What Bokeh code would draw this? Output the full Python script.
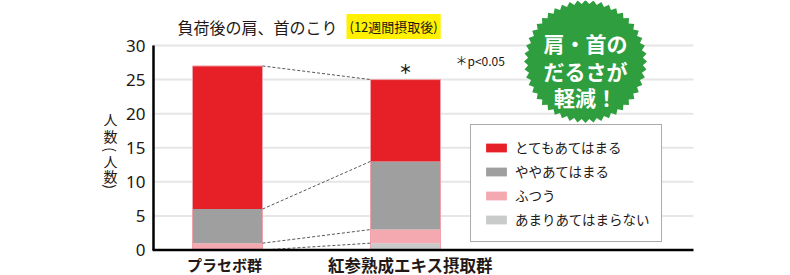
import numpy as np
from bokeh.plotting import figure
from bokeh.models import Range1d, Legend, LegendItem, ColumnDataSource
from bokeh.core.properties import value
from bokeh.embed import file_html
from bokeh.resources import INLINE

# ---------------- data ----------------
groups = ["プラセボ群", "紅参熟成エキス摂取群"]
levels = ["あまりあてはまらない", "ふつう", "ややあてはまる", "とてもあてはまる"]  # bottom -> top
placebo = [0, 1, 5, 21]
treatment = [1, 2, 10, 12]
y_ticks = [0, 5, 10, 15, 20, 25, 30]
colors = ["#c9caca", "#f4a8b0", "#9f9fa0", "#e71f26"]
y_title_chars = ["人", "数", "(", "人", "数", ")"]

# ---------------- layout helpers ----------------
W, H = 790, 275
PX_X = 178.0
x0 = 1 - 227 / PX_X
x1 = x0 + W / PX_X
PX_Y = 204.5 / 30
y1 = 30 + 45 / PX_Y
y0 = y1 - H / PX_Y
BAR_W = 70 / PX_X


def dx(px):
    return x0 + px / PX_X


def dy(py):
    return y1 - py / PX_Y


JP = "Noto Sans CJK JP"
DARK = "#231815"

p = figure(width=W, height=H, x_range=Range1d(x0, x1), y_range=Range1d(y0, y1),
           x_axis_location=None, y_axis_location=None, output_backend="svg", toolbar_location=None,
           min_border_left=0, min_border_right=0, min_border_top=0, min_border_bottom=0,
           outline_line_color=None, background_fill_color="white")
p.xgrid.visible = False
p.ygrid.visible = False

# grid lines (plot area 152..693 px)
gx0, gx1 = dx(152), dx(693)
p.segment(x0=[gx0] * (len(y_ticks) - 1), y0=y_ticks[1:], x1=[gx1] * (len(y_ticks) - 1), y1=y_ticks[1:],
          line_color="#e6e6e6", line_width=2)

# tick labels
p.text(x=[dx(145)] * len(y_ticks), y=y_ticks, text=[str(v) for v in y_ticks], text_align="right",
       text_baseline="middle", text_font=value("Noto Sans"), text_font_size="17px", text_color=DARK)

# bars
x_pos = [1, 2]
src = ColumnDataSource(dict(x=x_pos, **{lv: [a, b] for lv, a, b in zip(levels, placebo, treatment)}))
rs = p.vbar_stack(levels, x="x", width=BAR_W, fill_color=colors, line_color=None, source=src)
totals = [sum(placebo), sum(treatment)]
p.vbar(x=x_pos, top=totals, bottom=0, width=BAR_W, fill_color=None, line_color="#f0a3ab", line_width=1)

# dashed connectors
cum_p = np.cumsum(placebo)
cum_t = np.cumsum(treatment)
p.segment(x0=[1 + BAR_W / 2] * len(levels), y0=cum_p, x1=[2 - BAR_W / 2] * len(levels), y1=cum_t,
          line_dash="3 2", line_color="#595757", line_width=1)

# axis lines
p.segment(x0=[dx(153)], y0=[0], x1=[dx(153)], y1=[y_ticks[-1]], line_color="black", line_width=2.5)
p.segment(x0=[gx0], y0=[0], x1=[gx1], y1=[0], line_color="black", line_width=2.5)

# category labels
p.text(x=[1], y=[dy(264)], text=[groups[0]], x_offset=-3, text_align="center", text_baseline="middle",
       text_font=value(JP), text_font_size="15px", text_font_style="bold", text_color=DARK)
p.text(x=[2], y=[dy(264)], text=[groups[1]], x_offset=5, text_align="center", text_baseline="middle",
       text_font=value(JP), text_font_size="16.5px", text_font_style="bold", text_color=DARK)

# significance
p.text(x=[2], y=[dy(68)], text=["＊"], text_align="center", text_baseline="middle",
       text_font=value(JP), text_font_size="13px", text_font_style="bold", text_color=DARK)
p.text(x=[dx(455)], y=[dy(60)], text=["＊p<0.05"], text_align="left", text_baseline="middle",
       text_font=value(JP), text_font_size="12px", text_color=DARK)

# title
p.text(x=[dx(177)], y=[dy(26)], text=["負荷後の肩、首のこり"], text_align="left", text_baseline="middle",
       text_font=value(JP), text_font_size="16px", text_color=DARK)
p.text(x=[dx(346)], y=[dy(26)], text=["(12週間摂取後)"], text_align="left", text_baseline="middle",
       text_font=value(JP), text_font_size="13px", text_color=DARK,
       background_fill_color="#fff100", padding=3)

# y axis title (vertical, stacked characters; parentheses turned for vertical writing)
title_py = [118, 135, 149, 160, 175, 186]
title_ang = [0, 0, -np.pi / 2, 0, 0, -np.pi / 2]
p.text(x=[dx(110)] * len(y_title_chars), y=[dy(v) for v in title_py], text=y_title_chars,
       angle=title_ang, text_align="center", text_baseline="middle",
       text_font=value(JP), text_font_size="14px", text_color=DARK)

# badge
N = 48
t = np.linspace(0, 2 * np.pi, 2 * N, endpoint=False)
rr = np.where(np.arange(2 * N) % 2 == 0, 61.5, 57.5)
bx = dx(585 + rr * np.cos(t))
by = dy(61 - rr * np.sin(t))
p.patch(bx, by, fill_color="#2f9e3f", line_color=None)
for line, py in zip(["肩・首の", "だるさが", "軽減！"], [42, 70, 96]):
    p.text(x=[dx(585)], y=[dy(py)], text=[line], text_align="center", text_baseline="middle",
           text_font=value(JP), text_font_size="21px", text_font_style="bold", text_color="white")

# legend
items = [LegendItem(label=levels[i], renderers=[rs[i]]) for i in reversed(range(len(levels)))]
legend = Legend(items=items, location=(470, 33), glyph_width=26, glyph_height=11, label_height=17,
                spacing=4, padding=12, label_standoff=6, margin=0,
                label_text_font=JP, label_text_font_size="13.5px", label_text_color=DARK,
                border_line_color="#595757", border_line_width=1.5, background_fill_alpha=1)
p.add_layout(legend)

open("out.html", "w").write(file_html(p, INLINE))
